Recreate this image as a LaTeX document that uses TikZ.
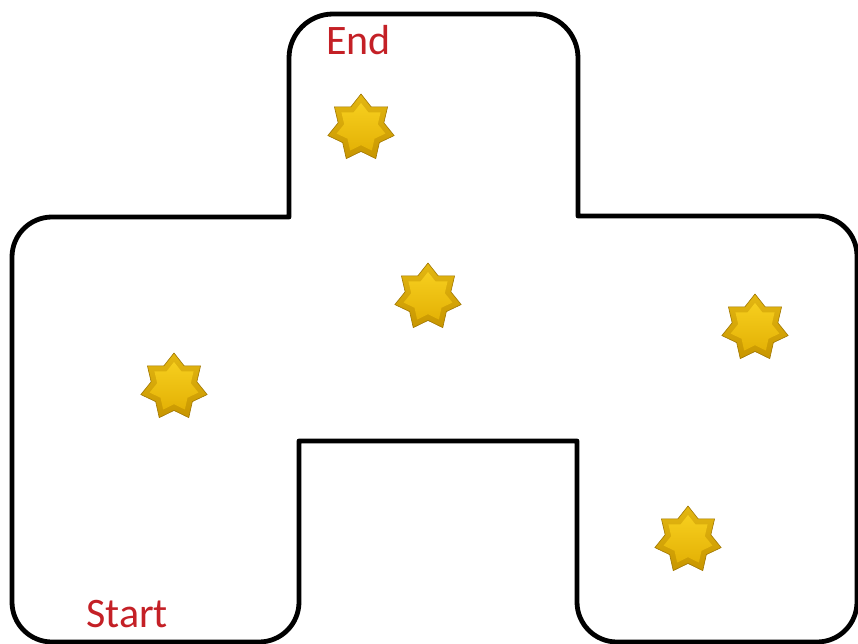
\documentclass[tikz,border=0pt]{standalone}
\usepackage{fontspec}
\setmainfont{Carlito}
\usetikzlibrary{shapes.geometric}
\definecolor{labelred}{RGB}{196,32,38}
\definecolor{gemdark}{RGB}{200,150,0}
\definecolor{gemedge}{RGB}{160,118,0}
\definecolor{gemlight}{RGB}{246,206,30}
\definecolor{gemmid}{RGB}{228,178,6}
\begin{document}
\begin{tikzpicture}[
  x=1pt,y=-1pt,
  wall/.style={line width=4.8pt,line join=round},
  lab/.style={text=labelred,font=\fontsize{42}{46}\selectfont,inner sep=0pt,anchor=base west},
  gem/.style={star,star points=7,star point ratio=1.45,minimum size=68pt,inner sep=0pt,
    draw=gemedge,line width=0.6pt,top color=gemlight!60!gemdark,bottom color=gemdark},
  gemtop/.style={star,star points=7,star point ratio=1.45,minimum size=50pt,inner sep=0pt,
    top color=gemlight,bottom color=gemmid}
]
\useasboundingbox (0,0) rectangle (858,644);
% outline of the maze
\draw[wall] (289,217) [rounded corners=44pt] -- (289,14) -- (578,14) [sharp corners] -- (578,216)
  [rounded corners=40pt] -- (857,216) -- (857,642) -- (577,642) [sharp corners] -- (577,441)
  -- (299,441) [rounded corners=40pt] -- (299,642) -- (12,642) -- (12,217) [sharp corners] -- cycle;
% labels
\node[lab] (end) at (326,55) {End};
\node[lab] (start) at (86,627) {Start};
% stars
\node[gem] (g1) at (361,128) {};
\node[gemtop] (g1c) at (g1) {};
\node[gem] (g2) at (428,297) {};
\node[gemtop] (g2c) at (g2) {};
\node[gem] (g3) at (755,328) {};
\node[gemtop] (g3c) at (g3) {};
\node[gem] (g4) at (174,387) {};
\node[gemtop] (g4c) at (g4) {};
\node[gem] (g5) at (688,540) {};
\node[gemtop] (g5c) at (g5) {};
\end{tikzpicture}
\end{document}
